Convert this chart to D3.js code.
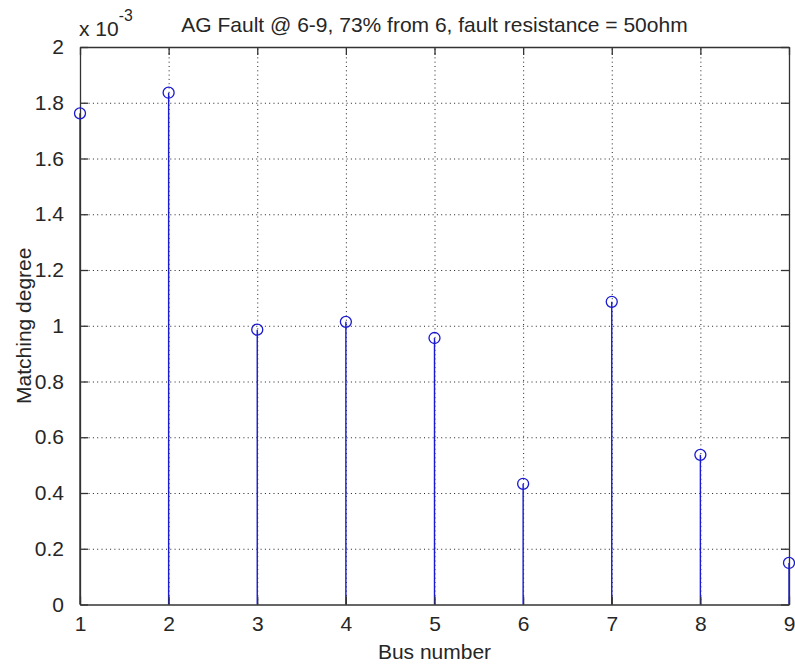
<!DOCTYPE html>
<html>
<head>
<meta charset="utf-8">
<script src="https://cdn.jsdelivr.net/npm/d3@7"></script>
<style>
	html, body { margin: 0; padding: 0; background: #fff; }
	svg text { font-family: "Liberation Sans", Arial, sans-serif; fill: #262626; }
</style>
</head>
<body>
<svg id="canvas" width="795" height="666"></svg>
<script>
'use strict';

// bus numbers on the x axis
const buses = [1, 2, 3, 4, 5, 6, 7, 8, 9];
// matching degree per bus
const matching = [1.762e-3, 1.836e-3, 0.986e-3, 1.014e-3, 0.956e-3, 0.433e-3, 1.086e-3, 0.537e-3, 0.149e-3];
const xTicks = [1, 2, 3, 4, 5, 6, 7, 8, 9];
const yTicks = [0, 0.2e-3, 0.4e-3, 0.6e-3, 0.8e-3, 1.0e-3, 1.2e-3, 1.4e-3, 1.6e-3, 1.8e-3, 2.0e-3];

const title = 'AG Fault @ 6-9, 73% from 6, fault resistance = 50ohm';
const xLabel = 'Bus number';
const yLabel = 'Matching degree';

const width = 795, height = 666;
const margin = {top: 47, right: 6, bottom: 61.5, left: 80};
const innerW = width - margin.left - margin.right;
const innerH = height - margin.top - margin.bottom;
const fontSize = 21;
const tickLen = 8;

const svg = d3.select('#canvas');
const g = svg.append('g').attr('transform', 'translate(' + margin.left + ',' + margin.top + ')');

const x = d3.scaleLinear().domain([1, 9]).range([0, innerW]);
const y = d3.scaleLinear().domain([0, 2e-3]).range([innerH, 0]);
const fmt = d => String(+(d * 1000).toFixed(1));

// dotted grid
g.append('g').attr('id', 'grid')
	.call(d3.axisBottom(x).tickValues(xTicks.slice(1, -1)).tickSize(-innerH).tickFormat(''))
	.attr('transform', 'translate(0,' + innerH + ')')
	.call(s => s.select('.domain').remove());
g.append('g').attr('class', 'ygrid')
	.call(d3.axisLeft(y).tickValues(yTicks.slice(1, -1)).tickSize(-innerW).tickFormat(''))
	.call(s => s.select('.domain').remove());
g.selectAll('#grid .tick line, .ygrid .tick line')
	.attr('stroke', '#222')
	.attr('stroke-width', 1)
	.attr('stroke-dasharray', '1,3.3');

// stems
const rows = buses.map((b, i) => ({bus: b, v: matching[i]}));
g.append('g').attr('id', 'stems')
	.selectAll('line')
	.data(rows)
	.join('line')
		.attr('x1', d => x(d.bus))
		.attr('x2', d => x(d.bus))
		.attr('y1', y(0))
		.attr('y2', d => y(d.v))
		.attr('stroke', '#1a1ad0')
		.attr('stroke-width', 1.4);

// axes, ticks pointing inward
const axisBottom = g.append('g').attr('id', 'xAxis')
	.attr('transform', 'translate(0,' + innerH + ')')
	.call(d3.axisBottom(x).tickValues(xTicks).tickFormat(d3.format('d')).tickSizeInner(-tickLen).tickSizeOuter(0).tickPadding(tickLen + 4));
const axisTop = g.append('g').attr('id', 'xAxisTop')
	.call(d3.axisTop(x).tickValues(xTicks).tickFormat('').tickSizeInner(-tickLen).tickSizeOuter(0));
const axisLeft = g.append('g').attr('id', 'yAxis')
	.call(d3.axisLeft(y).tickValues(yTicks).tickFormat(fmt).tickSizeInner(-tickLen).tickSizeOuter(0).tickPadding(tickLen + 8));
const axisRight = g.append('g').attr('id', 'yAxisRight')
	.attr('transform', 'translate(' + innerW + ',0)')
	.call(d3.axisRight(y).tickValues(yTicks).tickFormat('').tickSizeInner(-tickLen).tickSizeOuter(0));

[axisBottom, axisTop, axisLeft, axisRight].forEach(a => {
	a.select('.domain').attr('stroke', '#333').attr('stroke-width', 1.3);
	a.selectAll('.tick line').attr('stroke', '#333').attr('stroke-width', 1.3);
	a.selectAll('.tick text')
		.attr('font-size', fontSize)
		.attr('font-family', '"Liberation Sans", Arial, sans-serif')
		.attr('fill', '#262626');
});

// markers
g.append('g').attr('id', 'markers')
	.selectAll('circle')
	.data(rows)
	.join('circle')
		.attr('cx', d => x(d.bus))
		.attr('cy', d => y(d.v))
		.attr('r', 5.5)
		.attr('fill', 'none')
		.attr('stroke', '#1a1ad0')
		.attr('stroke-width', 1.3);

// title and labels
svg.append('text')
	.attr('x', margin.left + innerW / 2)
	.attr('y', 32)
	.attr('text-anchor', 'middle')
	.attr('font-size', fontSize)
	.text(title);

svg.append('text')
	.attr('x', margin.left + innerW / 2)
	.attr('y', 659)
	.attr('text-anchor', 'middle')
	.attr('font-size', fontSize)
	.text(xLabel);

svg.append('text')
	.attr('transform', 'translate(31,' + (margin.top + innerH / 2) + ') rotate(-90)')
	.attr('text-anchor', 'middle')
	.attr('font-size', fontSize)
	.text(yLabel);

// exponent note
const expo = svg.append('text')
	.attr('x', 79)
	.attr('y', 36)
	.attr('font-size', fontSize);
expo.append('tspan').text('x 10');
expo.append('tspan').attr('font-size', fontSize * 0.75).attr('dy', -15).text('-3');
</script>
</body>
</html>
